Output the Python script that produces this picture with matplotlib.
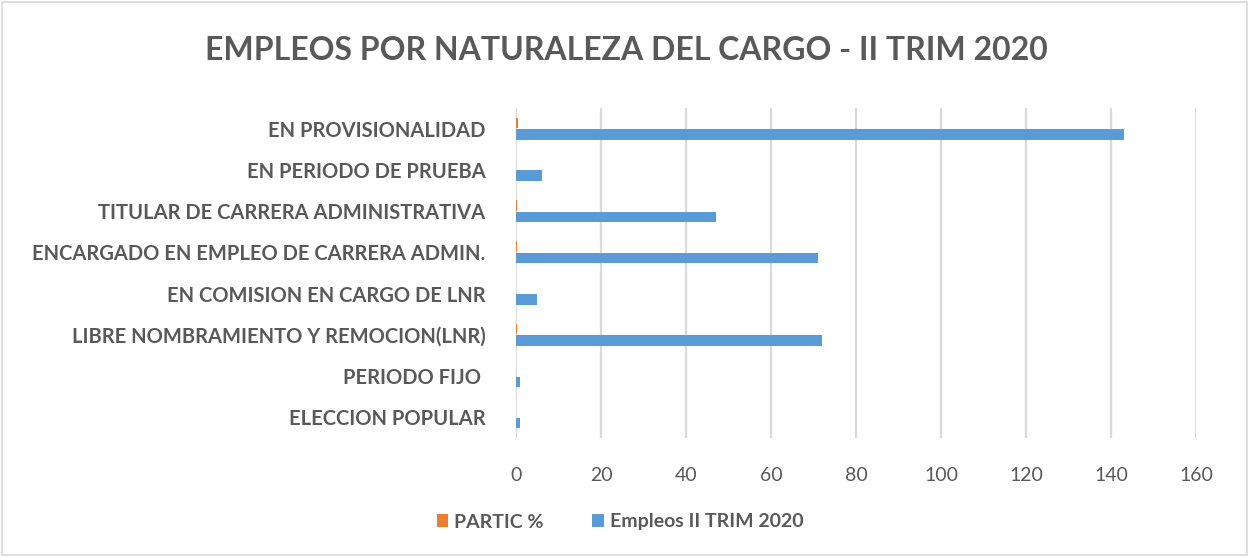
import numpy as np
import matplotlib.pyplot as plt
from matplotlib.patches import Rectangle

categorias = ['EN PROVISIONALIDAD', 'EN PERIODO DE PRUEBA', 'TITULAR DE CARRERA ADMINISTRATIVA',
              'ENCARGADO EN EMPLEO DE CARRERA ADMIN.', 'EN COMISION EN CARGO DE LNR',
              'LIBRE NOMBRAMIENTO Y REMOCION(LNR)', 'PERIODO FIJO ', 'ELECCION POPULAR']
empleos = [143, 6, 47, 71, 5, 72, 1, 1]
partic = [0.413, 0.017, 0.136, 0.205, 0.014, 0.208, 0.003, 0.003]
xticks = [0, 20, 40, 60, 80, 100, 120, 140, 160]

plt.rcParams['font.family'] = ['Lato', 'DejaVu Sans']
gris = '#595959'

fig = plt.figure(figsize=(12.49, 5.57), dpi=100)
ax = fig.add_axes([516/1249, 1-438/557, 680/1249, 330/557])

y = np.arange(len(categorias))
h = 0.25
ax.barh(y - 0.14, partic, height=h, color='#ED7D31', label='PARTIC %', zorder=3)
ax.barh(y + 0.14, empleos, height=h, color='#5B9BD5', label='Empleos II TRIM 2020', zorder=3)

ax.set_ylim(len(categorias) - 0.5, -0.5)
ax.set_xlim(0, 160)
ax.set_xticks(xticks)
ax.set_yticks(y)
ax.set_yticklabels(categorias, fontsize=14.5, fontweight='bold', color=gris)
ax.tick_params(axis='x', labelsize=14, colors=gris, length=0, pad=21)
ax.tick_params(axis='y', length=0, pad=22)
ax.grid(axis='x', color='#D9D9D9', linewidth=1.6, zorder=0)
for s in ax.spines.values():
    s.set_visible(False)

fig.suptitle('EMPLEOS POR NATURALEZA DEL CARGO - II TRIM 2020', x=626/1249, y=1-50/557,
             va='center', fontsize=23, fontweight='bold', color=gris)

leg = fig.legend(loc='center', bbox_to_anchor=(620/1249, 1-522/557), ncol=2, frameon=False,
                 fontsize=14, handlelength=0.6, handleheight=0.6, columnspacing=2.5,
                 handletextpad=0.3)
for t in leg.get_texts():
    t.set_color(gris)
    t.set_fontweight('bold')

fig.patches.append(Rectangle((0.002, 0.003), 0.996, 0.994, transform=fig.transFigure,
                             fill=False, edgecolor='#D9D9D9', linewidth=1.2))

fig.savefig('out.png', dpi=100)
